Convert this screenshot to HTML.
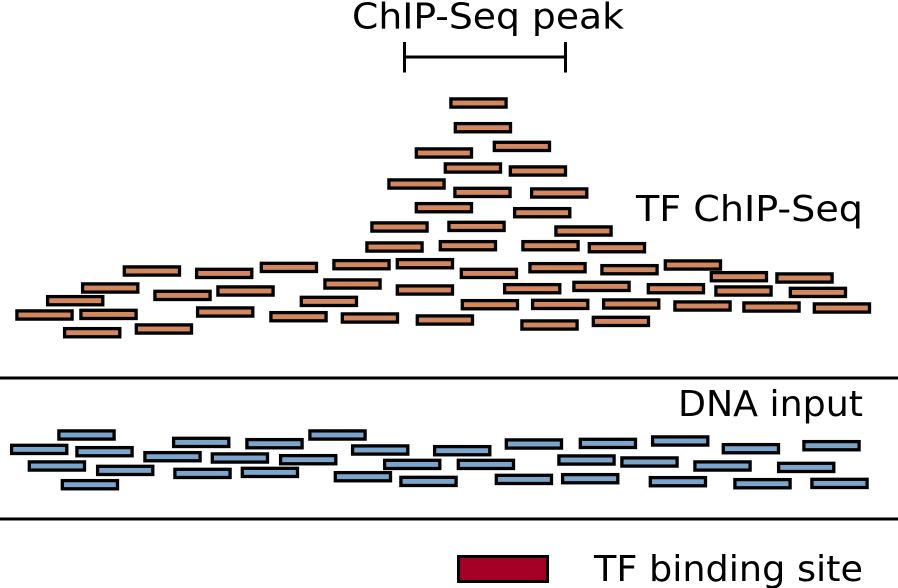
<!DOCTYPE html>
<html><head><meta charset="utf-8"><style>
html,body{margin:0;padding:0;background:#fff;width:898px;height:588px;overflow:hidden}
svg{display:block}
text{font-family:"DejaVu Sans",sans-serif;font-size:36px;fill:#000}
.o rect{fill:#d2875f;stroke:#000;stroke-width:3.300}
.b rect{fill:#7ba5cb;stroke:#000;stroke-width:3.300}
</style></head><body>
<svg width="898" height="588" viewBox="0 0 898 588" xmlns="http://www.w3.org/2000/svg">
<text x="352" y="28.500" textLength="272" lengthAdjust="spacingAndGlyphs">ChIP-Seq peak</text>
<text x="636" y="221" textLength="227" lengthAdjust="spacingAndGlyphs">TF ChIP-Seq</text>
<text x="678" y="416" textLength="185" lengthAdjust="spacingAndGlyphs">DNA input</text>
<text x="594" y="581" textLength="269" lengthAdjust="spacingAndGlyphs">TF binding site</text>
<path d="M404.500 42V72.500M565.500 42V72.500M404.500 57H565.500" fill="none" stroke="#000" stroke-width="3"/>
<path d="M0 378H898M0 519H898" fill="none" stroke="#000" stroke-width="3"/>
<rect x="458.500" y="556.500" width="89" height="25" fill="#a50026" stroke="#000" stroke-width="3"/>
<g class="o" id="o"></g>
<g class="b" id="b"></g>
</svg>
<script>
var o=[[449.3,97.3],[453.7,122],[492.7,140.7],[414.7,147.3],[443.7,162.3],[508.7,165.3],[387.3,178.3],[453.3,186.7],[530,187.3],[414.7,202],[513,207],[370.3,221.3],[447.3,220.7],[554.3,225.3],[365.3,241.3],[438.7,240],[521.3,240],[587.7,242],
[122.7,265.3],[195,267.7],[259.7,261.7],[332.3,259],[395.7,258],[81,282.3],[323.3,278.3],[153.3,289.7],[216.3,285.3],[395.7,284.3],[46,295],[299.7,295.7],[15.3,309.3],[79.3,308.7],[196,306.3],[269.3,311],[340.7,312.3],[415.7,314.3],[63,327],[134.7,323.3],
[459.7,267.7],[528.3,262],[600.3,264],[663.7,259.3],[709.7,271],[775.3,272.3],[503,283],[572.3,280.7],[646.7,283],[714.3,285.3],[788.7,286.7],[460.7,299],[531,298.7],[602,298.3],[673.3,300.3],[742.3,301.3],[812.7,302.3],[520.3,319.3],[591.7,315.7]];
var b=[[57.3,429.3],[10,443.7],[75.3,446],[172,436.7],[245.3,438],[308.3,429.3],[351,444.3],[433,445],[143.3,451],[210.7,452.3],[279,454],[27.7,460.3],[96,464.7],[383,458.7],[173.3,467.7],[240.7,466.7],[333.7,471],[399.3,475.7],[60.7,479],
[504.7,438.3],[578.7,437.7],[651,435.3],[721.7,443],[802.3,440],[456.7,458.7],[557.3,454.3],[620.3,456.3],[693.3,460.3],[777,461.7],[494.7,473.7],[561,473],[648.7,476],[733.3,478],[810.3,477.7]];
function d(id,a){var g=document.getElementById(id);a.forEach(function(p){var r=document.createElementNS('http://www.w3.org/2000/svg','rect');r.setAttribute('x',p[0]+1.6);r.setAttribute('y',p[1]+1.6);r.setAttribute('width',55.2);r.setAttribute('height',8.2);g.appendChild(r);});}
d('o',o);d('b',b);
</script>
</body></html>
